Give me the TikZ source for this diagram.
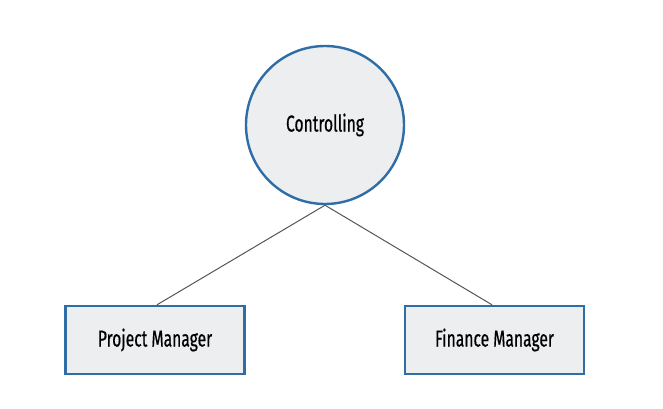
\documentclass[tikz,border=0pt]{standalone}
\usepackage{fontspec}
\setmainfont{Fira Sans}[FakeStretch=0.68,FakeBold=0.5]
\definecolor{bordblue}{HTML}{2E6DA6}
\definecolor{fillgray}{HTML}{ECEEF0}
\definecolor{linegray}{HTML}{555555}
\begin{document}
\begin{tikzpicture}[x=1pt,y=-1pt,
  box/.style={draw=bordblue,fill=fillgray,line width=2.4pt,minimum width=179pt,minimum height=68pt,inner sep=0pt,font=\fontsize{23}{25}\selectfont},
  circ/.style={circle,draw=bordblue,fill=fillgray,line width=2.4pt,minimum size=158pt,inner sep=0pt,font=\fontsize{23}{25}\selectfont},
  conn/.style={draw=linegray,line width=1pt}]
\useasboundingbox (0,0) rectangle (663,409);
\node[circ] (c) at (325,125) {Controlling};
\node[box] (pm) at (155,340) {Project Manager};
\node[box] (fm) at (494.5,340) {Finance Manager};
\coordinate (pmt) at (157,305);
\coordinate (fmt) at (492,305);
\draw[conn] (c.south) -- (pm.north -| pmt);
\draw[conn] (c.south) -- (fm.north -| fmt);
\end{tikzpicture}
\end{document}
